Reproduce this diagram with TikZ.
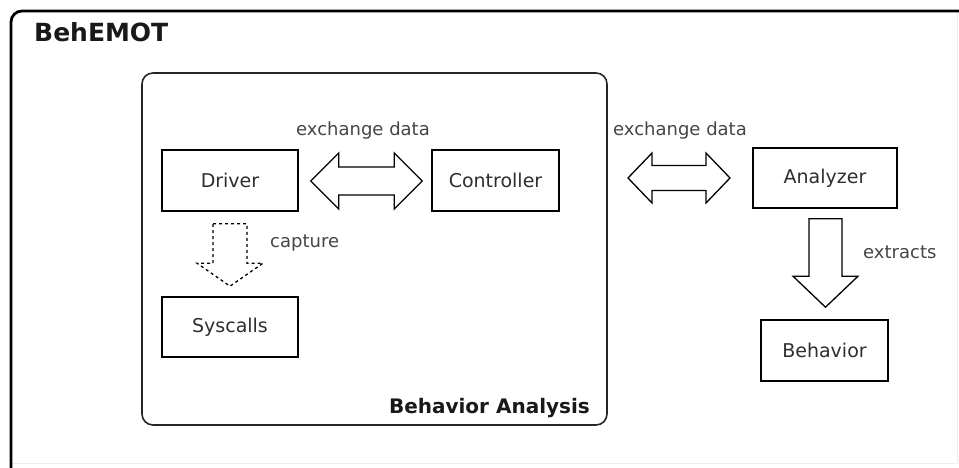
\documentclass[tikz,border=0pt]{standalone}
\usepackage{fontspec}
\setmainfont{DejaVu Sans}
\usetikzlibrary{calc}

\definecolor{boxtext}{HTML}{2E2E2E}
\definecolor{labeltext}{HTML}{454545}
\definecolor{framefade}{HTML}{EDEDED}

% horizontal double block arrow between two points
\newcommand\hblockarrow[6]{%
  \draw[#6] let \p1=(#1), \p2=(#2) in
    (\x1,\y1) -- (\x1+#5,\y1+#4) -- (\x1+#5,\y1+#3) -- (\x2-#5,\y1+#3)
    -- (\x2-#5,\y1+#4) -- (\x2,\y1) -- (\x2-#5,\y1-#4) -- (\x2-#5,\y1-#3)
    -- (\x1+#5,\y1-#3) -- (\x1+#5,\y1-#4) -- cycle;}
% downward block arrow from a top point to a tip point
\newcommand\vblockarrow[6]{%
  \draw[#6] let \p1=(#1), \p2=(#2) in
    (\x1-#3,\y1) -- (\x1+#3,\y1) -- (\x1+#3,\y2+#5) -- (\x1+#4,\y2+#5)
    -- (\x1,\y2) -- (\x1-#4,\y2+#5) -- (\x1-#3,\y2+#5) -- cycle;}

\begin{document}
\begin{tikzpicture}[x=1pt,y=-1pt,
  compbox/.style={draw=black,line width=1.6pt,rectangle,inner sep=0pt,
    text=boxtext,font=\fontsize{19}{23}\selectfont},
  flowlabel/.style={text=labeltext,inner sep=0pt,font=\fontsize{18}{22}\selectfont},
  blockarrow/.style={draw=black,line width=1.3pt,fill=white,line join=miter},
  dottedarrow/.style={draw=black,line width=1.3pt,fill=white,dash pattern=on 3pt off 3pt}]

\useasboundingbox (0,0) rectangle (959,468);

% outer BehEMOT frame (continues past the right and bottom edges)
\draw[framefade,line width=1pt] (957.5,11) -- (957.5,463) -- (11,463);
\draw[black,line width=2.8pt] (11,470) -- (11,22) arc[start angle=180,end angle=270,radius=11] -- (959,11);
\node[anchor=base west,inner sep=0pt,text=black!90,font=\fontsize{25}{30}\selectfont\bfseries] (title) at (34,42) {BehEMOT};

% Behavior Analysis container
\node[draw=black!85,line width=1.6pt,rounded corners=11pt,minimum width=465pt,minimum height=352pt,inner sep=0pt] (analysis) at (374.5,249) {};
\node[anchor=base east,inner sep=0pt,text=black!90,font=\fontsize{20}{24}\selectfont\bfseries] (analysislabel) at (590,413) {Behavior Analysis};

% components
\node[compbox,minimum width=136pt,minimum height=61pt] (driver) at (230,180.5) {Driver};
\node[compbox,minimum width=127pt,minimum height=61pt] (controller) at (495.5,180.5) {Controller};
\node[compbox,minimum width=136pt,minimum height=60pt] (syscalls) at (230,327) {Syscalls};
\node[compbox,minimum width=144pt,minimum height=60pt] (analyzer) at (825,178) {Analyzer};
\node[compbox,minimum width=127pt,minimum height=61pt] (behavior) at (824.5,350.5) {Behavior};

% connector end points
\coordinate (dc1) at ($(driver.east)+(12,0.5)$);
\coordinate (dc2) at ($(controller.west)+(-9,0.5)$);
\coordinate (ca1) at (628,178);
\coordinate (ca2) at (730,178);
\coordinate (ds1) at ($(driver.south)+(0,12)$);
\coordinate (ds2) at ($(syscalls.north)+(0,-10)$);
\coordinate (ab1) at ($(analyzer.south)+(0.5,10)$);
\coordinate (ab2) at ($(behavior.north)+(0,-12)$);

% connectors
\hblockarrow{dc1}{dc2}{14pt}{28pt}{28pt}{blockarrow}
\hblockarrow{ca1}{ca2}{12.5pt}{25pt}{24pt}{blockarrow}
\vblockarrow{ds1}{ds2}{17pt}{33pt}{23pt}{dottedarrow}
\vblockarrow{ab1}{ab2}{16.5pt}{32.5pt}{31pt}{blockarrow}

% connector labels
\node[flowlabel] (lblx1) at (363,131) {exchange data};
\node[flowlabel] (lblx2) at (680,131) {exchange data};
\node[flowlabel,anchor=west] (lblcap) at (270,243) {capture};
\node[flowlabel,anchor=west] (lblext) at (863,252) {extracts};
\end{tikzpicture}
\end{document}
